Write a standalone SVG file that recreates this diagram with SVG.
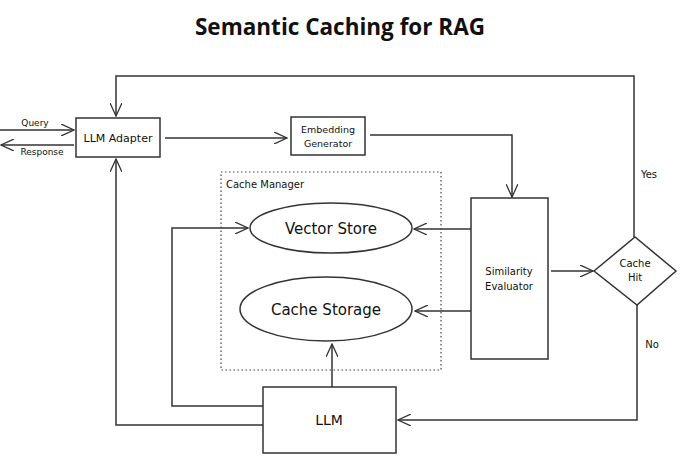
<svg xmlns="http://www.w3.org/2000/svg" width="680" height="476" viewBox="0 0 680 476">
<style>
.box{fill:#fff;stroke:#333;stroke-width:1.5}
.ln{fill:none;stroke:#333;stroke-width:1.5}
.t{font-family:"DejaVu Sans","Liberation Sans",sans-serif;fill:#111;text-anchor:middle}
.s{font-size:10px}
</style>
<defs>
<marker id="a" viewBox="0 0 14 12" refX="13" refY="6" markerWidth="14" markerHeight="12" markerUnits="userSpaceOnUse" orient="auto">
<path d="M0,0 L13,6 L0,12" fill="none" stroke="#333" stroke-width="1.3"/>
</marker>
</defs>
<rect width="680" height="476" fill="#fff"/>
<text x="340" y="35" class="t" style="font-family:'Open Sans','Liberation Sans',sans-serif;font-size:22.5px;font-weight:bold">Semantic Caching for RAG</text>

<g id="connectors">
<path class="ln" d="M634,237 V76 H116 V116" marker-end="url(#a)"/>
<path class="ln" d="M0,130 H74" marker-end="url(#a)"/>
<path class="ln" d="M74,145 H1" marker-end="url(#a)"/>
<path class="ln" d="M165,138 H287" marker-end="url(#a)"/>
<path class="ln" d="M370,135 H512 V197" marker-end="url(#a)"/>
<path class="ln" d="M551,271 H593" marker-end="url(#a)"/>
<path class="ln" d="M637,305 V420 H398" marker-end="url(#a)"/>
<path class="ln" d="M471,229 H414" marker-end="url(#a)"/>
<path class="ln" d="M471,311 H415" marker-end="url(#a)"/>
<path class="ln" d="M332,387 V344" marker-end="url(#a)"/>
<path class="ln" d="M263,406 H172 V228 H248" marker-end="url(#a)"/>
<path class="ln" d="M263,425 H116 V159" marker-end="url(#a)"/>
<text x="35" y="126" class="t" style="font-size:9px">Query</text>
<text x="42" y="155" class="t" style="font-size:9px">Response</text>
<text x="649" y="178" class="t s">Yes</text>
<text x="652" y="348" class="t s">No</text>
</g>

<g id="cache-manager">
<rect x="221" y="172" width="220" height="198" fill="none" stroke="#444" stroke-width="1.2" stroke-dasharray="1.5 2.5"/>
<text x="226" y="188" style="font-family:'DejaVu Sans',sans-serif;font-size:10px;fill:#111">Cache Manager</text>
</g>

<g id="llm-adapter">
<rect class="box" x="76" y="118" width="84" height="39"/>
<text x="118" y="142" class="t" style="font-size:11px">LLM Adapter</text>
</g>

<g id="embedding-generator">
<rect class="box" x="291" y="117" width="74" height="38"/>
<text x="328" y="133" class="t" style="font-size:9.5px">Embedding</text>
<text x="328" y="147" class="t" style="font-size:9.5px">Generator</text>
</g>

<g id="vector-store">
<ellipse class="box" cx="331" cy="228" rx="81" ry="25"/>
<text x="331" y="234" class="t" style="font-size:15px">Vector Store</text>
</g>

<g id="cache-storage">
<ellipse class="box" cx="326" cy="309" rx="86" ry="32"/>
<text x="326" y="315" class="t" style="font-size:15px">Cache Storage</text>
</g>

<g id="similarity-evaluator">
<rect class="box" x="471" y="198" width="77" height="161"/>
<text x="509" y="275" class="t s">Similarity</text>
<text x="509" y="290" class="t s">Evaluator</text>
</g>

<g id="cache-hit">
<polygon class="box" points="594,271 635,237 676,271 637,305"/>
<text x="635" y="267" class="t s">Cache</text>
<text x="635" y="281" class="t s">Hit</text>
</g>

<g id="llm">
<rect class="box" x="263" y="387" width="133" height="66"/>
<text x="329" y="425" class="t" style="font-size:14px">LLM</text>
</g>
</svg>
